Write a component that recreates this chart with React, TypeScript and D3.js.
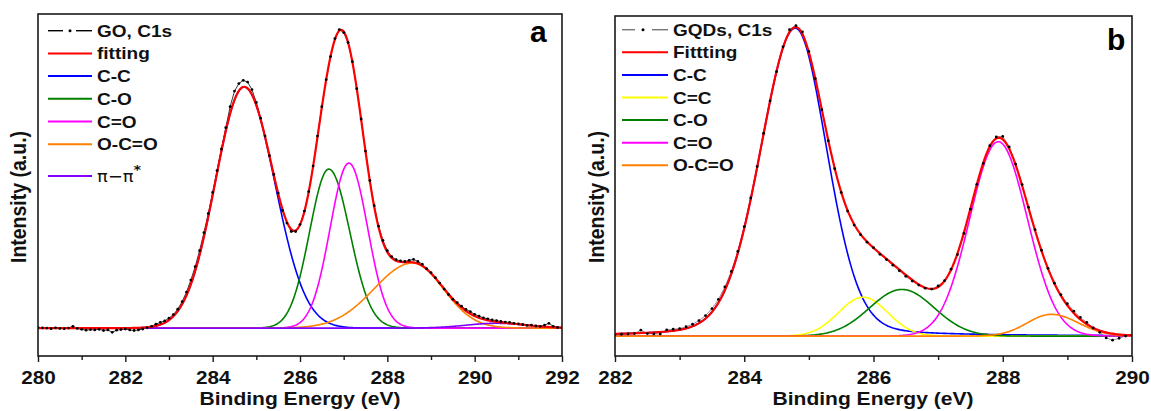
import React, { useEffect, useRef } from 'react';
import * as d3 from 'd3';

const W = 1151;
const H = 411;
const FONT = "'Liberation Sans', Arial, Helvetica, sans-serif";
const SX = 1.12; // the source figure is a little wider than Arial

// ---------- panel a : GO, C1s ----------
const goStart = 280.0;
const goStep = 0.1;
// measured intensity, 280.0 ... 292.0 eV
const goCounts = [
  0.002, 0.001, 0.000, -0.002, 0.001, -0.001, -0.002, 0.000, 0.006, -0.001,
  -0.004, -0.007, -0.005, -0.006, -0.004, -0.008, -0.006, -0.014, -0.007, -0.005,
  -0.003, -0.006, -0.008, -0.006, -0.003, 0.001, 0.006, 0.013, 0.019, 0.024,
  0.033, 0.045, 0.063, 0.088, 0.120, 0.160, 0.205, 0.258, 0.318, 0.382,
  0.452, 0.525, 0.597, 0.668, 0.738, 0.790, 0.815, 0.826, 0.820, 0.795,
  0.752, 0.700, 0.640, 0.575, 0.512, 0.450, 0.392, 0.350, 0.322, 0.322,
  0.345, 0.390, 0.455, 0.540, 0.640, 0.738, 0.828, 0.905, 0.965, 0.995,
  0.985, 0.952, 0.888, 0.798, 0.697, 0.590, 0.492, 0.408, 0.340, 0.292,
  0.258, 0.238, 0.228, 0.224, 0.222, 0.226, 0.229, 0.222, 0.213, 0.198,
  0.185, 0.168, 0.150, 0.130, 0.112, 0.096, 0.085, 0.073, 0.062, 0.055,
  0.046, 0.040, 0.034, 0.031, 0.027, 0.025, 0.022, 0.020, 0.019, 0.016,
  0.014, 0.012, 0.009, 0.010, 0.007, 0.006, 0.010, 0.016, 0.006, 0.002,
  0.001,
];
// fitted components
const goNames = ['C-C', 'C-O', 'C=O', 'O-C=O', 'π−π*'];
const goColors = ['#0000ff', '#008000', '#ff00ff', '#ff8000', '#8000ff'];
const goCenters = [284.72, 286.66, 287.12, 288.58, 290.5];
const goHeights = [0.804, 0.53, 0.55, 0.217, 0.016];
const goSigmaL = [0.66, 0.44, 0.43, 0.88, 0.7];
const goSigmaR = [0.70, 0.48, 0.43, 0.70, 0.7];
const goMix = [0, 0, 0, 0, 0];
const goTicks = [280, 282, 284, 286, 288, 290, 292];
const goMinor = [281, 283, 285, 287, 289, 291];

// ---------- panel b : GQDs, C1s ----------
const gqStart = 282.0;
const gqStep = 0.1;
// measured intensity, 282.0 ... 290.0 eV
const gqCounts = [
  0.004, 0.006, 0.007, 0.008, 0.019, 0.008, 0.007, 0.007, 0.020, 0.022,
  0.024, 0.030, 0.038, 0.050, 0.066, 0.088, 0.118, 0.158, 0.208, 0.272,
  0.352, 0.444, 0.545, 0.652, 0.756, 0.850, 0.930, 0.985, 0.998, 0.978,
  0.915, 0.828, 0.728, 0.628, 0.538, 0.462, 0.402, 0.357, 0.326, 0.302,
  0.284, 0.263, 0.246, 0.228, 0.210, 0.192, 0.177, 0.164, 0.154, 0.151,
  0.161, 0.178, 0.215, 0.262, 0.330, 0.408, 0.488, 0.555, 0.612, 0.640,
  0.642, 0.608, 0.553, 0.487, 0.414, 0.342, 0.276, 0.218, 0.170, 0.133,
  0.104, 0.080, 0.060, 0.044, 0.026, 0.012, -0.006, -0.013, -0.007, 0.000,
  0.002,
];
const gqNames = ['C-C', 'C=C', 'C-O', 'C=O', 'O-C=O'];
const gqColors = ['#0000ff', '#ffff00', '#008000', '#ff00ff', '#ff8000'];
const gqCenters = [284.79, 285.84, 286.44, 287.93, 288.75];
const gqHeights = [0.99, 0.125, 0.15, 0.625, 0.07];
const gqSigmaL = [0.54, 0.38, 0.5, 0.44, 0.37];
const gqSigmaR = [0.49, 0.38, 0.5, 0.45, 0.42];
const gqMix = [0.15, 0, 0, 0, 0];
const gqTicks = [282, 284, 286, 288, 290];
const gqMinor = [283, 285, 287, 289];

// Gaussian/Lorentzian peak with separate left / right widths
const peak = (e: number, c: number, h: number, sl: number, sr: number, m: number) => {
  const s = e < c ? sl : sr;
  const u = ((e - c) * (e - c)) / (2 * Math.LN2 * s * s);
  return h * ((1 - m) * Math.exp(-Math.LN2 * u) + m / (1 + u));
};

const panels = [
  {
    key: 'a', letter: 'a', letterX: 530, letterY: 42,
    start: goStart, step: goStep, counts: goCounts,
    names: goNames, colors: goColors, centers: goCenters, heights: goHeights,
    sigL: goSigmaL, sigR: goSigmaR, mix: goMix,
    ticks: goTicks, minor: goMinor,
    xDomain: [280, 292], yDomain: [-0.093, 1.047],
    left: 38, right: 562, top: 14, bottom: 356,
    dataLabel: 'GO, C1s', fitLabel: 'fitting', dataStroke: '#000',
    legX: 48, legX1: 92, legText: 97, legY: 36.7, legGap: 22.7,
    dash1: [0, 15], dot: 22, dash2: [28, 44],
    yLabelX: 26, titleX: 300,
  },
  {
    key: 'b', letter: 'b', letterX: 1107, letterY: 50,
    start: gqStart, step: gqStep, counts: gqCounts,
    names: gqNames, colors: gqColors, centers: gqCenters, heights: gqHeights,
    sigL: gqSigmaL, sigR: gqSigmaR, mix: gqMix,
    ticks: gqTicks, minor: gqMinor,
    xDomain: [282, 290], yDomain: [-0.064, 1.029],
    left: 615, right: 1132, top: 16, bottom: 356,
    dataLabel: 'GQDs, C1s', fitLabel: 'Fittting', dataStroke: '#777',
    legX: 622, legX1: 668, legText: 673, legY: 35.7, legGap: 22.6,
    dash1: [0, 13], dot: 21, dash2: [30, 46],
    yLabelX: 604, titleX: 873,
  },
];

type Panel = typeof panels[number];

function drawPanel(svg: d3.Selection<SVGSVGElement, unknown, null, undefined>, p: Panel) {
  const x = d3.scaleLinear().domain(p.xDomain).range([p.left, p.right]);
  const y = d3.scaleLinear().domain(p.yDomain).range([p.bottom, p.top]);
  const g = svg.append('g');

  const clipId = 'clip-' + p.key;
  g.append('clipPath').attr('id', clipId)
    .append('rect')
    .attr('x', p.left).attr('y', p.top)
    .attr('width', p.right - p.left).attr('height', p.bottom - p.top);
  const plot = g.append('g').attr('clip-path', `url(#${clipId})`);

  const line = d3.line<[number, number]>().x(d => x(d[0])).y(d => y(d[1]));
  const pts: [number, number][] = p.counts.map((v, i) => [p.start + i * p.step, v]);

  // raw data line
  plot.append('path')
    .attr('d', line(pts))
    .attr('fill', 'none')
    .attr('stroke', p.dataStroke)
    .attr('stroke-width', 0.8);

  // components
  const grid = d3.range(p.xDomain[0], p.xDomain[1] + 1e-9, 0.02);
  const comps = p.centers.map((c, k) =>
    grid.map(e => [e, peak(e, c, p.heights[k], p.sigL[k], p.sigR[k], p.mix[k])] as [number, number]));
  comps.forEach((c, k) => {
    plot.append('path')
      .attr('d', line(c))
      .attr('fill', 'none')
      .attr('stroke', p.colors[k])
      .attr('stroke-width', 1.6);
  });

  // envelope
  const fit = grid.map((e, j) => [e, d3.sum(comps, c => c[j][1])] as [number, number]);
  plot.append('path')
    .attr('d', line(fit))
    .attr('fill', 'none')
    .attr('stroke', '#ff0000')
    .attr('stroke-width', 2.2);

  // data points
  plot.selectAll('circle.pt')
    .data(pts)
    .join('circle')
    .attr('class', 'pt')
    .attr('cx', d => x(d[0]))
    .attr('cy', d => y(d[1]))
    .attr('r', 1.4)
    .attr('fill', '#000');

  // frame
  g.append('rect')
    .attr('x', p.left).attr('y', p.top)
    .attr('width', p.right - p.left).attr('height', p.bottom - p.top)
    .attr('fill', 'none')
    .attr('stroke', '#1a1a1a')
    .attr('stroke-width', 1.6);

  // bottom axis
  const axis = g.append('g').attr('transform', `translate(0,${p.bottom})`)
    .call(d3.axisBottom(x).tickValues(p.ticks).tickSize(6).tickFormat(d3.format('d')));
  axis.select('.domain').remove();
  axis.selectAll('line').attr('stroke', '#1a1a1a').attr('stroke-width', 1.4);
  axis.selectAll('text')
    .attr('x', 0).attr('y', 0).attr('dy', 0)
    .attr('transform', `translate(0,28) scale(${SX},1)`)
    .attr('fill', '#111')
    .style('font-family', FONT)
    .style('font-size', '18.5px')
    .style('font-weight', 'bold');
  const minorAxis = g.append('g').attr('transform', `translate(0,${p.bottom})`)
    .call(d3.axisBottom(x).tickValues(p.minor).tickSize(4).tickFormat(() => ''));
  minorAxis.select('.domain').remove();
  minorAxis.selectAll('line').attr('stroke', '#1a1a1a').attr('stroke-width', 1.4);

  // axis titles
  g.append('text')
    .attr('transform', `translate(${p.titleX},405) scale(${SX},1)`)
    .attr('text-anchor', 'middle')
    .style('font-family', FONT)
    .style('font-size', '18.8px')
    .style('font-weight', 'bold')
    .attr('fill', '#111')
    .text('Binding Energy (eV)');
  g.append('text')
    .attr('transform', `translate(${p.yLabelX},197) scale(${SX},1) rotate(-90)`)
    .attr('text-anchor', 'middle')
    .style('font-family', FONT)
    .style('font-size', '19.5px')
    .style('font-weight', 'bold')
    .attr('fill', '#111')
    .text('Intensity (a.u.)');

  // panel letter
  g.append('text')
    .attr('x', p.letterX).attr('y', p.letterY)
    .style('font-family', FONT)
    .style('font-size', '30px')
    .style('font-weight', 'bold')
    .attr('fill', '#000')
    .text(p.letter);

  // legend
  const labels = [p.dataLabel, p.fitLabel, ...p.names];
  const colors = ['#000', '#ff0000', ...p.colors];
  labels.forEach((lab, i) => {
    const special = lab.includes('*');
    const base = p.legY + i * p.legGap + (special ? 9 : 0);
    const ly = base - 6;
    if (i === 0) {
      g.append('line')
        .attr('x1', p.legX + p.dash1[0]).attr('x2', p.legX + p.dash1[1])
        .attr('y1', ly).attr('y2', ly)
        .attr('stroke', p.dataStroke).attr('stroke-width', 1.4);
      g.append('line')
        .attr('x1', p.legX + p.dash2[0]).attr('x2', p.legX + p.dash2[1])
        .attr('y1', ly).attr('y2', ly)
        .attr('stroke', p.dataStroke).attr('stroke-width', 1.4);
      g.append('circle')
        .attr('cx', p.legX + p.dot).attr('cy', ly).attr('r', 1.5).attr('fill', '#000');
    } else {
      g.append('line')
        .attr('x1', p.legX).attr('x2', p.legX1)
        .attr('y1', ly).attr('y2', ly)
        .attr('stroke', colors[i]).attr('stroke-width', 2);
    }
    if (special) {
      const t = g.append('text')
        .attr('transform', `translate(${p.legText},${base}) scale(${SX},1)`)
        .style('font-family', "'DejaVu Sans', sans-serif")
        .style('font-size', '16px')
        .attr('fill', '#111');
      t.append('tspan').text(lab.replace('*', ''));
      t.append('tspan')
        .attr('dy', -8)
        .style('font-weight', 'bold')
        .style('font-size', '13px')
        .text('*');
    } else {
      g.append('text')
        .attr('transform', `translate(${p.legText},${base}) scale(${SX},1)`)
        .style('font-family', FONT)
        .style('font-size', '17px')
        .style('font-weight', 'bold')
        .attr('fill', '#111')
        .text(lab);
    }
  });
}

export default function App() {
  const ref = useRef<SVGSVGElement>(null);

  useEffect(() => {
    if (!ref.current) return;
    const svg = d3.select(ref.current);
    svg.selectAll('*').remove();
    svg.append('rect').attr('width', W).attr('height', H).attr('fill', '#fff');
    panels.forEach(p => drawPanel(svg, p));
  }, []);

  return (
    <svg
      ref={ref}
      width={W}
      height={H}
      style={{ position: 'absolute', left: 0, top: 0, display: 'block' }}
    />
  );
}
